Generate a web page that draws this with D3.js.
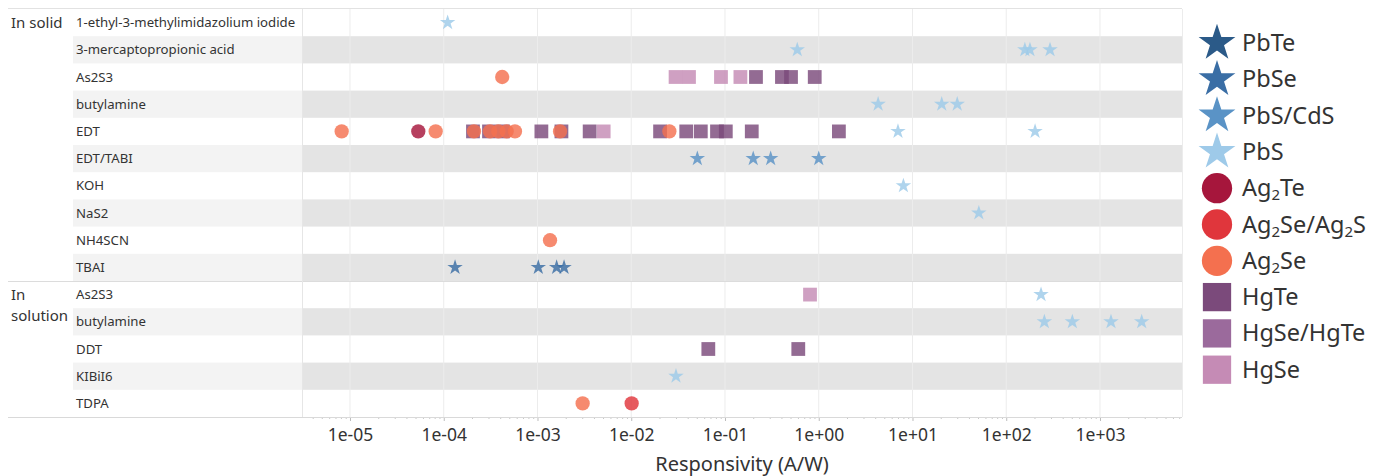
<!DOCTYPE html>
<html>
<head>
<meta charset="utf-8">
<script src="https://cdn.jsdelivr.net/npm/d3@7"></script>
<style>
  body { margin: 0; background: #fff; }
  text { font-family: "Noto Sans", sans-serif; fill: #333; }
</style>
</head>
<body>
<div id="chart"></div>
<script>
// rows of the table
const solidRows = ["1-ethyl-3-methylimidazolium iodide", "3-mercaptopropionic acid", "As2S3", "butylamine",
                   "EDT", "EDT/TABI", "KOH", "NaS2", "NH4SCN", "TBAI"];
const solutionRows = ["As2S3", "butylamine", "DDT", "KIBiI6", "TDPA"];

const tickLabels = ["1e-05", "1e-04", "1e-03", "1e-02", "1e-01", "1e+00", "1e+01", "1e+02", "1e+03"];

// legend order
const materials = ["PbTe", "PbSe", "PbS/CdS", "PbS", "Ag2Te", "Ag2Se/Ag2S", "Ag2Se", "HgTe", "HgSe/HgTe", "HgSe"];
const materialColors = ["#2b5a88", "#3a6ea5", "#5a93c6", "#9ecae9", "#a6163c", "#e0363c", "#f4704f", "#7b4a7b", "#9b6a9c", "#c58bb5"];
const materialShapes = ["star", "star", "star", "star", "circle", "circle", "circle", "square", "square", "square"];

// points per material: [group, row label, responsivity A/W]
const hgsePoints = [
  ["solid", "As2S3", 0.0297], ["solid", "As2S3", 0.0413], ["solid", "As2S3", 0.0906], ["solid", "As2S3", 0.146],
  ["solid", "EDT", 5.08e-3],
  ["solution", "As2S3", 0.807]
];
const hgsehgtePoints = [];
const hgtePoints = [
  ["solid", "As2S3", 0.214], ["solid", "As2S3", 0.405], ["solid", "As2S3", 0.506], ["solid", "As2S3", 0.906],
  ["solid", "EDT", 2.05e-4], ["solid", "EDT", 3.04e-4], ["solid", "EDT", 4.28e-4], ["solid", "EDT", 1.1e-3],
  ["solid", "EDT", 1.8e-3], ["solid", "EDT", 3.6e-3], ["solid", "EDT", 0.0203], ["solid", "EDT", 0.0386],
  ["solid", "EDT", 0.0552], ["solid", "EDT", 0.0822], ["solid", "EDT", 0.102], ["solid", "EDT", 0.193],
  ["solid", "EDT", 1.64],
  ["solution", "DDT", 0.0664], ["solution", "DDT", 0.605]
];
const ag2sePoints = [
  ["solid", "As2S3", 4.2e-4],
  ["solid", "EDT", 8.15e-6], ["solid", "EDT", 8.2e-5], ["solid", "EDT", 2.1e-4], ["solid", "EDT", 3.11e-4],
  ["solid", "EDT", 3.82e-4], ["solid", "EDT", 4.69e-4], ["solid", "EDT", 5.75e-4], ["solid", "EDT", 1.74e-3],
  ["solid", "EDT", 0.0255],
  ["solid", "NH4SCN", 1.36e-3],
  ["solution", "TDPA", 3.03e-3]
];
const ag2seag2sPoints = [["solution", "TDPA", 0.0101]];
const ag2tePoints = [["solid", "EDT", 5.35e-5]];
const pbsPoints = [
  ["solid", "1-ethyl-3-methylimidazolium iodide", 1.1e-4],
  ["solid", "3-mercaptopropionic acid", 0.59], ["solid", "3-mercaptopropionic acid", 158],
  ["solid", "3-mercaptopropionic acid", 179], ["solid", "3-mercaptopropionic acid", 293],
  ["solid", "butylamine", 4.3], ["solid", "butylamine", 20.5], ["solid", "butylamine", 30],
  ["solid", "EDT", 7.0], ["solid", "EDT", 203],
  ["solid", "KOH", 8.0],
  ["solid", "NaS2", 51],
  ["solution", "As2S3", 235],
  ["solution", "butylamine", 255], ["solution", "butylamine", 507], ["solution", "butylamine", 1310], ["solution", "butylamine", 2785],
  ["solution", "KIBiI6", 0.030]
];
const pbscdsPoints = [["solid", "EDT/TABI", 0.0507], ["solid", "EDT/TABI", 0.2], ["solid", "EDT/TABI", 0.307], ["solid", "EDT/TABI", 1.0]];
const pbsePoints = [["solid", "TBAI", 1.32e-4], ["solid", "TBAI", 1.02e-3], ["solid", "TBAI", 1.6e-3], ["solid", "TBAI", 1.92e-3]];
const pbtePoints = [];

// draw order: squares under circles under stars
const layers = [
  ["HgSe", hgsePoints], ["HgSe/HgTe", hgsehgtePoints], ["HgTe", hgtePoints],
  ["Ag2Se", ag2sePoints], ["Ag2Se/Ag2S", ag2seag2sPoints], ["Ag2Te", ag2tePoints],
  ["PbS", pbsPoints], ["PbS/CdS", pbscdsPoints], ["PbSe", pbsePoints], ["PbTe", pbtePoints]
];

const w = 1375, h = 476;
const leftX = 8, labelX = 73, plotLeft = 302, plotRight = 1182;
const topY = 9, bottomY = 417;

const rowKeys = solidRows.map(d => "solid|" + d).concat(solutionRows.map(d => "solution|" + d));

const yScale = d3.scaleBand().domain(rowKeys).range([topY, bottomY]);
const xScale = d3.scaleLog().domain([Math.pow(10, -5.512), Math.pow(10, 3.8747)]).range([plotLeft, plotRight]);

const colorOf = d3.scaleOrdinal().domain(materials).range(materialColors);
const shapeOf = d3.scaleOrdinal().domain(materials).range(materialShapes);

const symbolTypes = { star: d3.symbolStar, circle: d3.symbolCircle, square: d3.symbolSquare };
// marker areas
const chartSizes = { star: 74, circle: 160, square: 190 };
const legendSizes = { star: 420, circle: 720, square: 800 };

const svg = d3.select("#chart").append("svg")
  .attr("width", w)
  .attr("height", h);

// banded rows
svg.append("g").selectAll("rect")
  .data(rowKeys.filter((d, i) => i % 2 === 1))
  .enter().append("rect")
  .attr("x", labelX)
  .attr("y", d => yScale(d))
  .attr("width", plotLeft - labelX)
  .attr("height", yScale.bandwidth())
  .attr("fill", "#f3f3f3");

svg.append("g").selectAll("rect")
  .data(rowKeys.filter((d, i) => i % 2 === 1))
  .enter().append("rect")
  .attr("x", plotLeft)
  .attr("y", d => yScale(d))
  .attr("width", plotRight - plotLeft)
  .attr("height", yScale.bandwidth())
  .attr("fill", "#e4e4e4");

// grid lines at the decades
const tickValues = tickLabels.map(Number);
svg.append("g").selectAll("line")
  .data(tickValues)
  .enter().append("line")
  .attr("x1", d => xScale(d))
  .attr("x2", d => xScale(d))
  .attr("y1", topY)
  .attr("y2", bottomY)
  .attr("stroke", "#ececec")
  .attr("stroke-width", 1);

// frame lines
svg.append("line").attr("x1", leftX).attr("x2", plotRight).attr("y1", topY - 0.5).attr("y2", topY - 0.5).attr("stroke", "#e2e2e2");
svg.append("line").attr("x1", leftX).attr("x2", plotRight)
   .attr("y1", yScale("solution|" + solutionRows[0]) + 0.5).attr("y2", yScale("solution|" + solutionRows[0]) + 0.5)
   .attr("stroke", "#dcdcdc");
svg.append("line").attr("x1", plotLeft + 0.5).attr("x2", plotLeft + 0.5).attr("y1", topY).attr("y2", bottomY).attr("stroke", "#e6e6e6");
svg.append("line").attr("x1", plotRight + 0.5).attr("x2", plotRight + 0.5).attr("y1", topY).attr("y2", bottomY).attr("stroke", "#ececec");

// axes
const xAxis = d3.axisBottom(xScale)
  .tickValues(tickValues)
  .tickFormat((d, i) => tickLabels[i])
  .tickSize(4)
  .tickPadding(8);

const minorTicks = xScale.ticks().filter(d => tickValues.indexOf(d) < 0);
const xMinor = d3.axisBottom(xScale).tickValues(minorTicks).tickFormat("").tickSize(2);

svg.append("g")
   .attr("transform", `translate(0, ${bottomY})`)
   .call(xMinor)
   .call(g => g.select(".domain").remove())
   .call(g => g.selectAll("line").attr("stroke", "#c8c8c8"));

svg.append("g")
   .attr("id", "x-axis")
   .attr("transform", `translate(0, ${bottomY})`)
   .call(xAxis)
   .call(g => g.select(".domain").remove())
   .call(g => g.selectAll("line").attr("stroke", "#bdbdbd"))
   .call(g => g.selectAll("text").style("font-size", "17.5px").attr("fill", "#333")
               .style("font-family", "'Noto Sans', sans-serif"));

svg.append("line").attr("x1", leftX).attr("x2", plotRight).attr("y1", bottomY + 0.5).attr("y2", bottomY + 0.5).attr("stroke", "#d9d9d9");

svg.append("text")
   .attr("x", (plotLeft + plotRight) / 2)
   .attr("y", 471)
   .attr("text-anchor", "middle")
   .style("font-size", "20px")
   .text("Responsivity (A/W)");

// row labels
svg.append("g").selectAll("text")
  .data(rowKeys)
  .enter().append("text")
  .attr("x", labelX + 3)
  .attr("y", d => yScale(d) + yScale.bandwidth() / 2 + 4.5)
  .style("font-size", "13.2px")
  .text(d => d.split("|")[1]);

// group labels
svg.append("text")
   .attr("x", leftX + 3)
   .attr("y", yScale("solid|" + solidRows[0]) + yScale.bandwidth() / 2 + 5)
   .style("font-size", "15px")
   .text("In solid");

const solTop = yScale("solution|" + solutionRows[0]);
svg.append("text")
   .attr("x", leftX + 3)
   .attr("y", solTop + yScale.bandwidth() / 2 + 5)
   .style("font-size", "15px")
   .text("In");
svg.append("text")
   .attr("x", leftX + 3)
   .attr("y", solTop + yScale.bandwidth() / 2 + 26)
   .style("font-size", "15px")
   .text("solution");

// markers
layers.forEach(([name, pts]) => {
  svg.append("g").selectAll("path")
    .data(pts)
    .enter().append("path")
    .attr("class", "dot")
    .attr("transform", d => `translate(${xScale(d[2])}, ${yScale(d[0] + "|" + d[1]) + yScale.bandwidth() / 2})`)
    .attr("d", d3.symbol().type(symbolTypes[shapeOf(name)]).size(chartSizes[shapeOf(name)]))
    .attr("fill", colorOf(name))
    .attr("fill-opacity", 0.82);
});

// legend
const legend = svg.append("g")
  .attr("id", "legend")
  .attr("transform", "translate(1217, 43)");

const legendStep = 36.3;

legend.selectAll("path")
  .data(materials)
  .enter().append("path")
  .attr("transform", (d, i) => `translate(0, ${i * legendStep})`)
  .attr("d", d => d3.symbol().type(symbolTypes[shapeOf(d)]).size(legendSizes[shapeOf(d)])())
  .attr("fill", d => colorOf(d));

legend.selectAll("text")
  .data(materials)
  .enter().append("text")
  .attr("x", 25)
  .attr("y", (d, i) => i * legendStep + 8)
  .style("font-size", "23.5px")
  .each(function(d) {
    // subscript the 2 in Ag2...
    const t = d3.select(this);
    d.split(/(2)/).forEach(part => {
      if (part === "") return;
      if (part === "2" && d.startsWith("Ag")) {
        t.append("tspan").attr("baseline-shift", "-25%").style("font-size", "15px").text("2");
      } else {
        t.append("tspan").text(part);
      }
    });
  });
</script>
</body>
</html>
